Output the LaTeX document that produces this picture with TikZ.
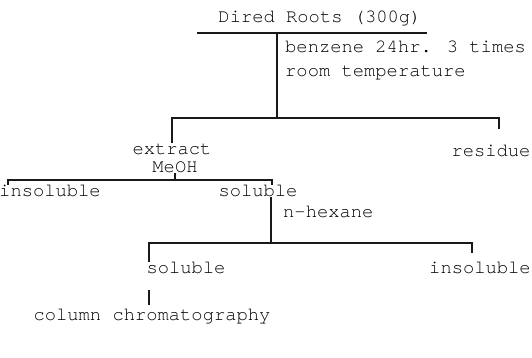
\documentclass[tikz,border=0pt]{standalone}
\usepackage{fontspec}
\newfontfamily\twfont{texgyrecursor-regular.otf}
\begin{document}
\begin{tikzpicture}[x=1pt,y=-1pt,
  lbl/.style={font=\twfont\fontsize{18.8}{20}\selectfont, inner sep=0pt, text=black},
  ln/.style={line width=1.1pt, draw=black!90}]
\useasboundingbox (0,0) rectangle (532,357);
% texts
\node[lbl] (roots) at (320,18) {Dired Roots (300g)};
\node[lbl,anchor=west] (benz) at (285,47) {benzene 24hr. 3 times};
\node[lbl,anchor=west] (room) at (285,73) {room temperature};
\node[lbl] (extract) at (172,149) {extract};
\node[lbl] (residue) at (491,151) {residue};
\node[lbl] (meoh) at (175,167) {MeOH};
\node[lbl] (insol1) at (50,191) {insoluble};
\node[lbl] (sol1) at (258,191) {soluble};
\node[lbl,anchor=west] (hex) at (283,212) {n-hexane};
\node[lbl] (sol2) at (186,268) {soluble};
\node[lbl] (insol2) at (480,268) {insoluble};
\node[lbl] (column) at (152,317) {column chromatography};
% junctions
\coordinate (l1a) at (197,33);
\coordinate (l1b) at (427,33);
\coordinate (j1) at (277,33);
\coordinate (j2) at (277,118);
\coordinate (l2a) at (172,118);
\coordinate (l2b) at (499,118);
\coordinate (t2b) at (499,129);
\coordinate (j3) at (175,180);
\coordinate (l3a) at (8,180);
\coordinate (l3b) at (272,180);
\coordinate (t3b) at (272,185);
\coordinate (j4) at (271,243);
\coordinate (l4a) at (149,243);
\coordinate (l4b) at (472,243);
\coordinate (t4b) at (472,253);
\coordinate (c1) at (149,290);
\coordinate (c2) at (149,305);
% connectors
\draw[ln] (l1a) -- (l1b);
\draw[ln] (j1) -- (j2);
\draw[ln] (extract.north -| l2a) -- (l2a) -- (l2b) -- (t2b);
\draw[ln] (meoh.south -| j3) -- (j3);
\draw[ln] (insol1.north -| l3a) -- (l3a) -- (l3b) -- (t3b);
\draw[ln] (sol1.south -| j4) -- (j4);
\draw[ln] (sol2.north -| l4a) -- (l4a) -- (l4b) -- (t4b);
\draw[ln] (c1) -- (c2);
\end{tikzpicture}
\end{document}
